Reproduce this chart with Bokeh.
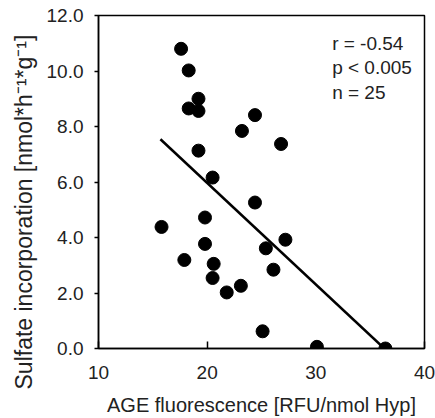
from bokeh.plotting import figure
from bokeh.models import Label, Range1d, FixedTicker, PrintfTickFormatter, Title
from bokeh.embed import file_html
from bokeh.resources import INLINE

# Data
age_fluorescence = [17.6, 18.3, 18.3, 19.2, 19.2, 23.2, 24.4, 26.8, 19.2, 20.5,
                    24.4, 15.8, 19.8, 19.8, 27.2, 25.4, 17.9, 20.6, 26.1, 20.5,
                    21.8, 23.1, 25.1, 30.1, 36.4]
sulfate_incorp = [10.80, 10.02, 8.65, 9.00, 8.56, 7.84, 8.41, 7.37, 7.13, 6.16,
                  5.26, 4.38, 4.72, 3.77, 3.92, 3.61, 3.19, 3.05, 2.84, 2.54,
                  2.02, 2.26, 0.62, 0.06, 0.00]
fit_x = [15.7, 36.3]
fit_y = [7.54, 0.0]
x_ticks = [10, 20, 30, 40]
y_ticks = [0, 2, 4, 6, 8, 10, 12]
stats = ["r = -0.54", "p < 0.005", "n = 25"]
y_label = "Sulfate incorporation [nmol*h\u207b\u00b9*g\u207b\u00b9]"

FONT = "Liberation Sans"
INK = "#222222"

p = figure(width=435, height=418, output_backend="svg", toolbar_location=None,
           x_range=Range1d(10, 40), y_range=Range1d(0, 12),
           min_border_left=98, min_border_right=11, min_border_top=15,
           min_border_bottom=69)

p.xgrid.visible = False
p.ygrid.visible = False
p.outline_line_color = "black"
p.outline_line_width = 1.5
p.background_fill_color = "white"
p.border_fill_color = "white"

p.line(fit_x, fit_y, line_color="black", line_width=2.5)
p.scatter(age_fluorescence, sulfate_incorp, size=13, fill_color="black",
          line_color="black")

# X axis
xa = p.xaxis[0]
xa.ticker = FixedTicker(ticks=x_ticks)
xa.major_tick_in = 7
xa.major_tick_out = 0
xa.minor_tick_line_color = None
xa.axis_line_width = 1.5
xa.major_tick_line_width = 1.5
xa.major_label_standoff = 17
xa.major_label_text_font = FONT
xa.major_label_text_font_size = "19px"
xa.major_label_text_color = INK
xa.axis_label = "AGE fluorescence [RFU/nmol Hyp]"
xa.axis_label_text_font = FONT
xa.axis_label_text_font_size = "20px"
xa.axis_label_text_font_style = "normal"
xa.axis_label_text_color = INK
xa.axis_label_standoff = 12

# Y axis
ya = p.yaxis[0]
ya.ticker = FixedTicker(ticks=y_ticks)
ya.formatter = PrintfTickFormatter(format="%.1f")
ya.major_tick_in = 0
ya.major_tick_out = 4
ya.minor_tick_line_color = None
ya.axis_line_width = 1.5
ya.major_tick_line_width = 1.5
ya.major_label_standoff = 11
ya.major_label_text_font = FONT
ya.major_label_text_font_size = "19px"
ya.major_label_text_color = INK

p.add_layout(Title(text=y_label, align="left", offset=-41, text_font=FONT,
                   text_font_size="23px", text_font_style="normal",
                   text_color=INK, standoff=14), "left")

stat_y = [11.0, 10.14, 9.21]
for txt, yy in zip(stats, stat_y):
    p.add_layout(Label(x=31.5, y=yy, text=txt, text_font=FONT,
                       text_font_size="19px", text_color=INK,
                       text_baseline="alphabetic", text_align="left"))

open("out.html", "w").write(file_html(p, INLINE))
